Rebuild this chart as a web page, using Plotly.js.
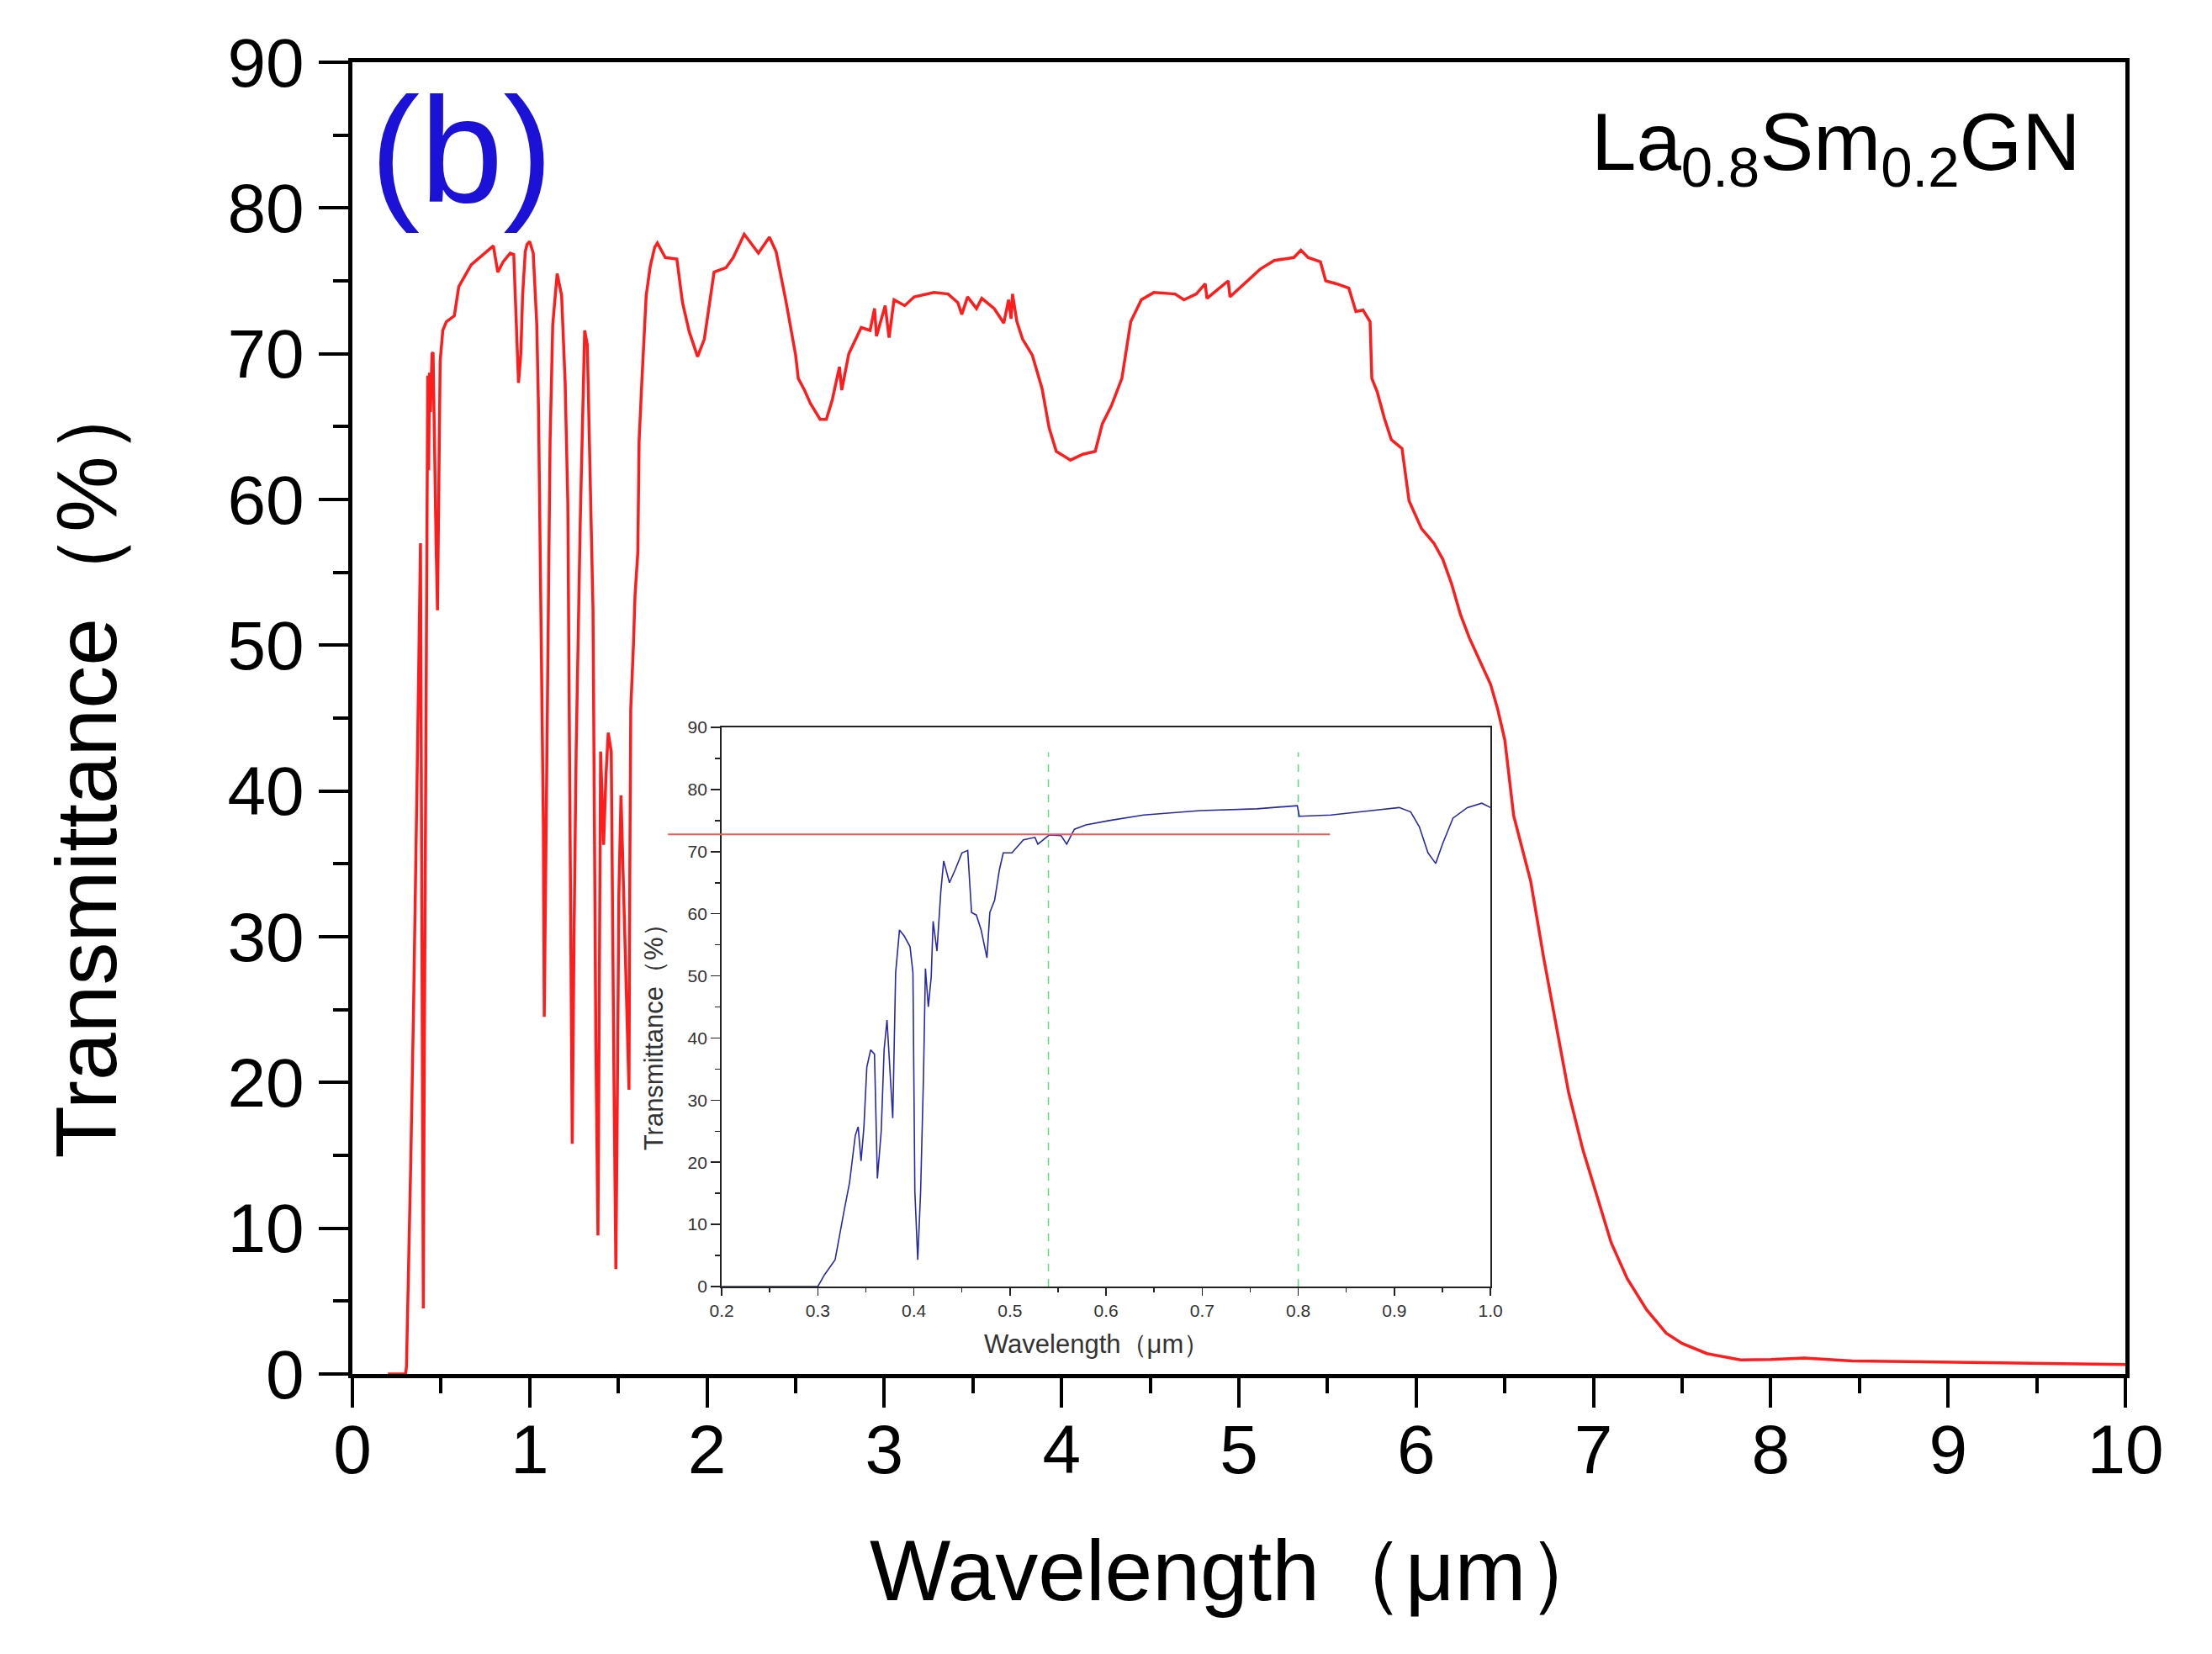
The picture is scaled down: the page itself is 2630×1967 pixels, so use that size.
<!DOCTYPE html>
<html>
<head>
<meta charset="utf-8">
<script src="https://cdn.plot.ly/plotly-3.0.1.min.js"></script>
<style>html,body{margin:0;padding:0;background:#fff;}#chart{width:2630px;height:1967px;}</style>
</head>
<body>
<div id="chart"></div>
<script>
// ---- Main spectrum (red) ----
const mainWavelength = [0.2, 0.3, 0.305, 0.32, 0.33, 0.345, 0.353, 0.36, 0.368, 0.384, 0.39, 0.395, 0.40, 0.405, 0.41, 0.418, 0.425, 0.43, 0.435, 0.44, 0.449, 0.455, 0.46, 0.466, 0.472, 0.48, 0.487, 0.495, 0.51, 0.53, 0.575, 0.6, 0.67, 0.72, 0.795, 0.82, 0.85, 0.89, 0.91, 0.937, 0.95, 0.96, 0.975, 0.985, 1.0, 1.02, 1.04, 1.05, 1.065, 1.077, 1.082, 1.09, 1.10, 1.115, 1.13, 1.155, 1.18, 1.2, 1.215, 1.228, 1.24, 1.25, 1.262, 1.285, 1.31, 1.325, 1.34, 1.357, 1.373, 1.385, 1.392, 1.40, 1.417, 1.43, 1.443, 1.46, 1.475, 1.486, 1.495, 1.503, 1.515, 1.53, 1.545, 1.56, 1.565, 1.57, 1.585, 1.594, 1.61, 1.617, 1.633, 1.657, 1.68, 1.705, 1.72, 1.765, 1.83, 1.862, 1.90, 1.947, 1.985, 2.04, 2.107, 2.148, 2.21, 2.29, 2.352, 2.39, 2.447, 2.5, 2.515, 2.55, 2.583, 2.638, 2.673, 2.706, 2.747, 2.76, 2.8, 2.87, 2.92, 2.945, 2.956, 3.005, 3.027, 3.055, 3.115, 3.169, 3.28, 3.36, 3.415, 3.437, 3.47, 3.52, 3.55, 3.62, 3.674, 3.701, 3.715, 3.723, 3.748, 3.78, 3.835, 3.89, 3.93, 3.97, 4.05, 4.12, 4.19, 4.23, 4.28, 4.34, 4.39, 4.45, 4.52, 4.64, 4.69, 4.76, 4.81, 4.82, 4.88, 4.94, 4.95, 5.04, 5.12, 5.2, 5.31, 5.35, 5.39, 5.46, 5.49, 5.55, 5.62, 5.66, 5.7, 5.74, 5.75, 5.78, 5.82, 5.86, 5.92, 5.96, 6.03, 6.1, 6.15, 6.2, 6.25, 6.3, 6.35, 6.42, 6.46, 6.5, 6.55, 6.646, 6.72, 6.79, 6.86, 6.94, 7.01, 7.1, 7.19, 7.3, 7.41, 7.5, 7.64, 7.83, 8.0, 8.19, 8.46, 9.0, 9.5, 10];
const mainTransmittance = [0, 0, 0.5, 8, 15, 25.2, 32.7, 38.3, 43.3, 57, 40, 22, 4.5, 20, 35, 53, 68.5, 62, 68.7, 66, 70, 70.1, 66, 59.8, 57, 52.4, 62, 69.5, 71.6, 72.2, 72.6, 74.6, 76.1, 76.6, 77.4, 75.6, 76.3, 76.9, 76.8, 68, 70, 74, 77, 77.5, 77.7, 76.9, 72, 66, 50, 37.8, 24.5, 33, 47.5, 64, 72, 75.5, 74, 68, 59.8, 40, 15.8, 30, 42.7, 58.4, 71.6, 70.6, 63, 52.5, 23, 9.5, 25, 42.7, 36.3, 41, 44, 42.7, 20.6, 7.2, 20, 32.9, 39.7, 33, 28, 19.5, 35, 45.6, 50, 53.4, 56.4, 64, 68.2, 74, 76, 77.3, 77.6, 76.6, 76.5, 73.5, 71.5, 69.8, 71, 75.6, 75.9, 76.6, 78.2, 76.9, 78.0, 77, 73.5, 69.9, 68.3, 67.5, 66.6, 65.5, 65.5, 66.8, 69.1, 67.5, 70, 71.8, 71.6, 73.1, 71.2, 73.3, 71.1, 73.7, 73.3, 73.9, 74.2, 74.1, 73.5, 72.7, 73.9, 73.1, 73.8, 73.1, 72.1, 73.7, 72.4, 74.1, 72.2, 71, 69.9, 67.6, 64.9, 63.3, 62.7, 63.1, 63.3, 65.2, 66.4, 68.3, 72.2, 73.7, 74.2, 74.1, 73.7, 74.1, 74.8, 73.8, 74.4, 75, 73.9, 74.9, 75.8, 76.4, 76.6, 77.1, 76.6, 76.3, 75, 74.8, 74.5, 72.9, 73, 72.2, 68.3, 67.4, 65.6, 64.1, 63.5, 59.9, 58, 57, 55.9, 54.2, 52.1, 50.5, 49.2, 47.3, 45.6, 43.5, 38.3, 33.8, 28.5, 23.9, 19.3, 15.4, 12.6, 9.0, 6.55, 4.4, 2.8, 2.1, 1.4, 0.97, 1.0, 1.1, 0.9, 0.8, 0.7, 0.65];

// ---- Inset spectrum (blue) ----
const insetWavelength = [0.2, 0.3, 0.307, 0.318, 0.327, 0.333, 0.339, 0.342, 0.345, 0.348, 0.351, 0.355, 0.359, 0.362, 0.366, 0.369, 0.372, 0.375, 0.378, 0.381, 0.385, 0.39, 0.396, 0.399, 0.401, 0.404, 0.407, 0.41, 0.412, 0.415, 0.418, 0.42, 0.424, 0.428, 0.431, 0.437, 0.443, 0.45, 0.456, 0.46, 0.465, 0.47, 0.476, 0.479, 0.484, 0.489, 0.493, 0.502, 0.514, 0.526, 0.529, 0.541, 0.553, 0.559, 0.567, 0.579, 0.603, 0.639, 0.698, 0.757, 0.799, 0.801, 0.834, 0.876, 0.905, 0.917, 0.926, 0.935, 0.943, 0.95, 0.961, 0.976, 0.991, 1.0];
const insetTransmittance = [0, 0, 1.9, 4.3, 11.9, 16.7, 24.3, 25.7, 20.2, 25.7, 35.3, 38.1, 37.4, 17.4, 25, 38.1, 42.9, 35.3, 27.1, 50.5, 57.4, 56.4, 54.7, 50.5, 15.3, 4.3, 15.3, 34, 51.2, 45, 49.8, 58.8, 54, 63.6, 68.5, 65, 67.1, 69.8, 70.2, 60.2, 59.8, 57.4, 52.9, 60.2, 62.2, 67.1, 69.8, 69.8, 71.9, 72.3, 71.2, 72.7, 72.6, 71.2, 73.6, 74.3, 75, 75.9, 76.6, 76.9, 77.4, 75.7, 75.9, 76.6, 77.1, 76.4, 74, 69.8, 68.1, 71.2, 75.4, 77.1, 77.8, 77.1];

// ---- Inset reference marks ----
const refLineX = [0.144, 0.833];
const refLineY = [72.8, 72.8];
const guideX = [0.54, 0.8];
const guideY = [0, 86];

// ---- Labels ----
const mainXTitle = 'Wavelength（μm）';
const mainYTitle = 'Transmittance（%）';
const insetXTitle = 'Wavelength（μm）';
const insetYTitle = 'Transmittance（%）';
const panelLabel = '(b)';
const sampleLabel = 'La<sub>0.8</sub>Sm<sub>0.2</sub>GN';

const FONT = 'Liberation Sans, Arial, Helvetica, sans-serif';
const insetDomX = [0.2083, 0.6419];
const insetDomY = [0.0667, 0.4929];
const insetRange = [0.2, 1.0];
const insetScale = (insetDomX[1] - insetDomX[0]) / (insetRange[1] - insetRange[0]);
const extDomStart = insetDomX[0] - (insetRange[0] - refLineX[0]) * insetScale;

const traces = [
  {x: mainWavelength, y: mainTransmittance, type: 'scatter', mode: 'lines',
   line: {color: 'rgb(255,28,28)', width: 3.5}, xaxis: 'x', yaxis: 'y', hoverinfo: 'skip'},
  {x: [guideX[0], guideX[0]], y: guideY, type: 'scatter', mode: 'lines',
   line: {color: 'rgb(90,220,120)', width: 1.5, dash: 'dash'}, xaxis: 'x2', yaxis: 'y2'},
  {x: [guideX[1], guideX[1]], y: guideY, type: 'scatter', mode: 'lines',
   line: {color: 'rgb(90,220,120)', width: 1.5, dash: 'dash'}, xaxis: 'x2', yaxis: 'y2'},
  {x: insetWavelength, y: insetTransmittance, type: 'scatter', mode: 'lines',
   line: {color: 'rgb(40,40,170)', width: 1.6}, xaxis: 'x2', yaxis: 'y2'},
  {x: refLineX, y: refLineY, type: 'scatter', mode: 'lines',
   line: {color: 'rgb(240,90,90)', width: 2}, xaxis: 'x3', yaxis: 'y2'}
];

const layout = {
  width: 2630, height: 1967,
  margin: {l: 419, r: 103, t: 74, b: 333, pad: 0},
  paper_bgcolor: '#ffffff', plot_bgcolor: 'rgba(0,0,0,0)',
  showlegend: false,
  font: {family: FONT, color: '#000'},
  xaxis: {
    domain: [0, 1], range: [0, 10], tick0: 0, dtick: 1,
    ticks: 'outside', ticklen: 35, tickwidth: 4, tickcolor: '#000',
    showline: true, linewidth: 5, linecolor: '#000', mirror: true,
    showgrid: false, zeroline: false,
    tickfont: {family: FONT, size: 82, color: '#000'},
    ticklabelstandoff: -20,
    minor: {dtick: 0.5, ticks: 'outside', ticklen: 18, tickwidth: 4, tickcolor: '#000', showgrid: false}
  },
  yaxis: {
    domain: [0, 1], range: [0, 90], tick0: 0, dtick: 10,
    ticks: 'outside', ticklen: 35, tickwidth: 4, tickcolor: '#000',
    showline: true, linewidth: 5, linecolor: '#000', mirror: true,
    showgrid: false, zeroline: false,
    tickfont: {family: FONT, size: 82, color: '#000'},
    ticklabelstandoff: 1,
    minor: {dtick: 5, ticks: 'outside', ticklen: 18, tickwidth: 4, tickcolor: '#000', showgrid: false}
  },
  xaxis2: {
    domain: insetDomX, anchor: 'y2', range: insetRange, tick0: 0.2, dtick: 0.1, tickformat: '.1f',
    ticks: 'outside', ticklen: 9, tickwidth: 1.5, tickcolor: '#222',
    showline: true, linewidth: 2, linecolor: '#222', mirror: true,
    showgrid: false, zeroline: false,
    tickfont: {family: FONT, size: 21, color: '#333'},
    minor: {dtick: 0.05, ticks: 'outside', ticklen: 5, tickwidth: 1.5, tickcolor: '#222', showgrid: false}
  },
  yaxis2: {
    domain: insetDomY, anchor: 'x2', range: [0, 90], tick0: 0, dtick: 10,
    ticks: 'outside', ticklen: 11, tickwidth: 1.5, tickcolor: '#222',
    showline: true, linewidth: 2, linecolor: '#222', mirror: true,
    showgrid: false, zeroline: false,
    tickfont: {family: FONT, size: 21, color: '#333'},
    minor: {dtick: 5, ticks: 'outside', ticklen: 6, tickwidth: 1.5, tickcolor: '#222', showgrid: false}
  },
  xaxis3: {
    domain: [extDomStart, insetDomX[1]], anchor: 'y2', range: [refLineX[0], insetRange[1]],
    visible: false, showgrid: false, zeroline: false
  },
  annotations: [
    {text: panelLabel, xref: 'paper', yref: 'paper', x: 0.009, y: 0.933, xanchor: 'left', yanchor: 'middle',
     showarrow: false, font: {family: FONT, size: 178, color: 'rgb(28,18,215)'}},
    {text: sampleLabel, xref: 'paper', yref: 'paper', x: 0.976, y: 0.935, xanchor: 'right', yanchor: 'middle',
     showarrow: false, font: {family: FONT, size: 96, color: '#000'}},
    {text: mainXTitle, xref: 'paper', yref: 'paper', x: 0.501, y: -0.150, xanchor: 'center', yanchor: 'middle',
     showarrow: false, font: {family: FONT, size: 102, color: '#000'}},
    {text: mainYTitle, xref: 'paper', yref: 'paper', x: -0.150, y: 0.465, xanchor: 'center', yanchor: 'middle',
     textangle: -90, showarrow: false, font: {family: FONT, size: 102, color: '#000'}},
    {text: insetXTitle, xref: 'paper', yref: 'paper', x: 0.4198, y: 0.023, xanchor: 'center', yanchor: 'middle',
     showarrow: false, font: {family: FONT, size: 31, color: '#333'}},
    {text: insetYTitle, xref: 'paper', yref: 'paper', x: 0.1698, y: 0.262, xanchor: 'center', yanchor: 'middle',
     textangle: -90, showarrow: false, font: {family: FONT, size: 31, color: '#333'}}
  ]
};

Plotly.newPlot('chart', traces, layout, {staticPlot: true, displayModeBar: false});
</script>
</body>
</html>
